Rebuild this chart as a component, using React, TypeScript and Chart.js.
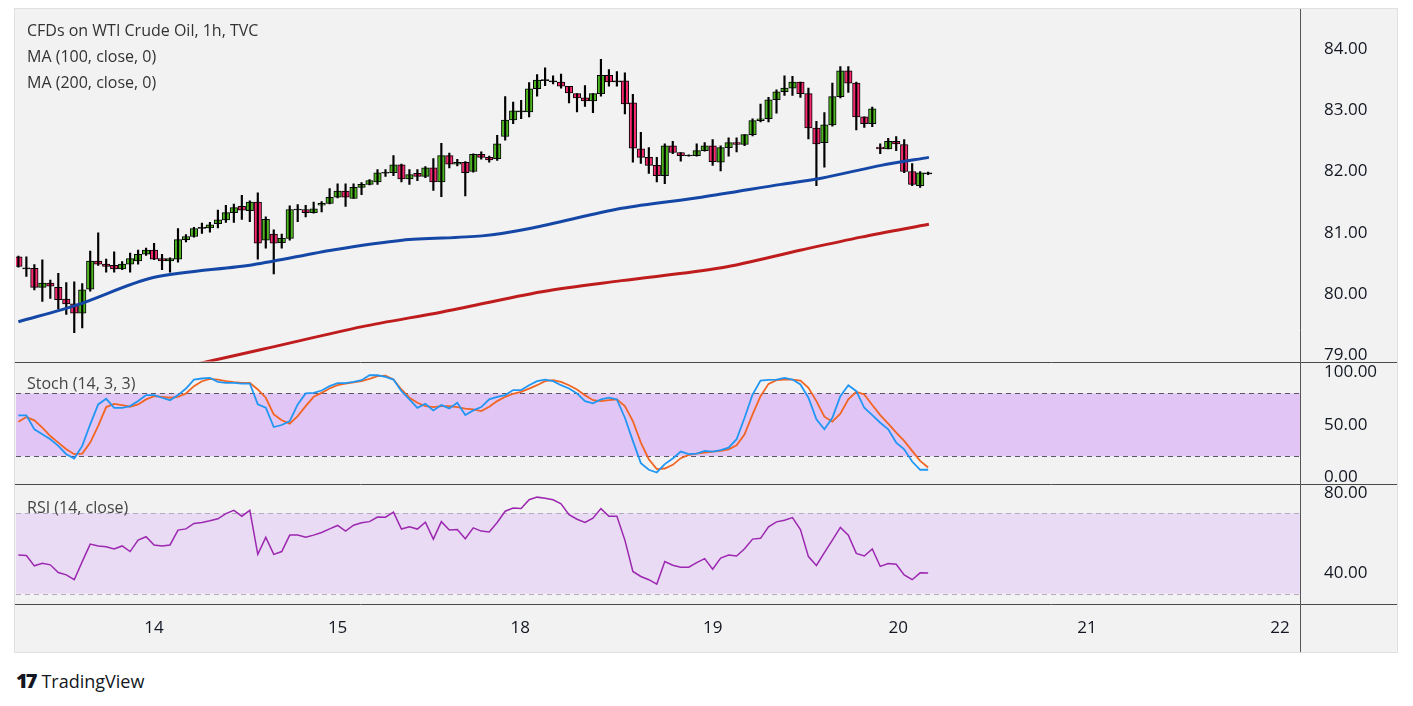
import React, { useEffect, useRef } from "react";
import { Chart, registerables } from "chart.js";
Chart.register(...registerables);

// Candles: [open, close, high, low]
const candles: number[][] = [
  [80.61,80.45,80.62,80.44],[80.42,80.42,80.61,80.29],[80.42,80.11,80.48,80.07],[80.11,80.18,80.56,79.88],
  [80.18,80.13,80.23,79.93],[80.11,79.91,80.34,79.76],[79.92,79.84,80.19,79.67],[79.84,79.69,80.20,79.37],
  [79.69,80.07,80.17,79.45],[80.08,80.54,80.70,80.05],[80.54,80.49,81.00,80.47],[80.49,80.45,80.57,80.36],
  [80.47,80.41,80.69,80.36],[80.41,80.49,80.53,80.40],[80.49,80.58,80.67,80.36],[80.54,80.65,80.72,80.49],
  [80.65,80.72,80.75,80.63],[80.72,80.57,80.83,80.56],[80.58,80.54,80.65,80.40],[80.54,80.58,80.59,80.36],
  [80.57,80.89,81.07,80.52],[80.89,80.94,80.97,80.85],[80.94,81.07,81.09,80.93],[81.08,81.08,81.16,80.99],
  [81.08,81.13,81.17,81.01],[81.15,81.21,81.37,81.08],[81.21,81.33,81.45,81.17],[81.33,81.41,81.47,81.17],
  [81.43,81.37,81.61,81.22],[81.36,81.50,81.52,81.18],[81.50,80.83,81.65,80.57],[80.88,81.22,81.26,80.75],
  [80.98,80.83,81.05,80.33],[80.84,80.91,80.98,80.75],[80.91,81.38,81.44,80.88],[81.38,81.38,81.46,81.18],
  [81.38,81.33,81.45,81.26],[81.33,81.39,81.50,81.32],[81.45,81.48,81.51,81.34],[81.48,81.58,81.72,81.47],
  [81.58,81.68,81.80,81.57],[81.68,81.58,81.80,81.43],[81.56,81.74,81.80,81.56],[81.74,81.79,81.82,81.62],
  [81.79,81.85,81.87,81.78],[81.83,81.98,82.03,81.79],[81.98,81.98,82.03,81.92],[81.98,82.11,82.26,81.93],
  [82.11,81.88,82.12,81.83],[81.88,81.95,82.03,81.79],[81.97,81.92,82.03,81.85],[81.92,82.06,82.08,81.90],
  [82.06,81.83,82.21,81.69],[81.83,82.26,82.46,81.59],[82.26,82.12,82.30,82.06],[82.12,82.15,82.20,82.09],
  [82.15,81.98,82.16,81.60],[82.00,82.28,82.29,81.99],[82.28,82.23,82.32,82.20],[82.23,82.19,82.25,82.15],
  [82.21,82.45,82.59,82.18],[82.57,82.84,83.22,82.51],[82.84,82.99,83.13,82.78],[82.98,82.98,83.16,82.86],
  [82.97,83.35,83.45,82.89],[83.35,83.49,83.58,83.23],[83.49,83.49,83.69,83.40],[83.47,83.47,83.56,83.43],
  [83.46,83.39,83.59,83.36],[83.39,83.28,83.39,83.12],[83.27,83.20,83.27,82.97],[83.20,83.15,83.40,83.06],
  [83.15,83.27,83.27,82.96],[83.27,83.57,83.83,83.23],[83.57,83.46,83.66,83.39],[83.47,83.47,83.63,83.39],
  [83.48,83.10,83.61,82.94],[83.12,82.38,83.26,82.15],[82.37,82.23,82.64,82.13],[82.23,82.10,82.39,81.97],
  [82.10,81.93,82.23,81.83],[81.93,82.42,82.45,81.80],[82.42,82.31,82.49,82.29],[82.31,82.26,82.31,82.17],
  [82.26,82.26,82.27,82.25],[82.26,82.34,82.45,82.25],[82.34,82.42,82.47,82.33],[82.42,82.16,82.52,82.10],
  [82.15,82.39,82.42,82.01],[82.39,82.47,82.55,82.25],[82.47,82.44,82.55,82.32],[82.44,82.60,82.60,82.42],
  [82.60,82.83,82.86,82.58],[82.83,82.86,83.10,82.81],[82.86,83.17,83.21,82.81],[83.17,83.30,83.33,82.95],
  [83.30,83.36,83.56,83.24],[83.36,83.46,83.55,83.24],[83.46,83.27,83.46,83.21],[83.27,82.71,83.36,82.53],
  [82.71,82.45,82.82,81.77],[82.47,82.76,82.96,82.07],[82.76,83.22,83.44,82.74],[83.22,83.64,83.71,83.20],
  [83.64,83.44,83.71,83.29],[83.44,82.89,83.46,82.68],[82.89,82.78,82.89,82.72],[82.78,83.02,83.05,82.73],
  [82.40,82.37,82.45,82.29],[82.37,82.49,82.54,82.37],[82.49,82.45,82.57,82.34],[82.44,82.00,82.52,81.98],
  [82.00,81.79,82.13,81.77],[81.77,81.98,82.00,81.74],[81.97,81.97,81.99,81.95],
];

const ma100X = [0, 7.5, 16.9, 29.4, 39.4, 48.1, 58.1, 64.4, 75.6, 85.6, 95.6, 100.6, 108.1, 114.1];
const ma100Y = [79.55, 79.83, 80.27, 80.48, 80.72, 80.88, 80.95, 81.08, 81.40, 81.58, 81.79, 81.89, 82.10, 82.23];
const ma200X = [22, 30.6, 43.1, 53.1, 65.6, 75.6, 88.1, 98.1, 105.6, 114.1];
const ma200Y = [78.85, 79.10, 79.47, 79.71, 80.04, 80.22, 80.43, 80.72, 80.93, 81.14];

const stochK = [59,59,45.7,40.9,36.2,29.8,21.9,17.8,29.8,50.5,69.5,74.9,66.3,66.3,67.9,72.7,78.4,78.4,75.9,73.6,78.4,84.7,93.3,94.3,94.9,91.1,90.1,90.1,89.5,89.5,69.5,66.3,47.9,49.8,53.6,69.5,80,80.6,82.8,87,89.8,89.8,91.1,92.7,97.4,97.4,95.9,93.3,82.2,74.3,66.3,70.1,63.8,68.9,65.7,71.1,59.3,63.8,67,
  74.3,76.8,78.4,83.2,83.2,87.9,91.7,93.3,91.7,87.9,84.7,80,72.7,70.5,74.3,75.9,74.3,56.8,34.6,13.3,7,4.4,12.4,17.8,24.4,21.9,22.5,25.1,24.4,25.7,28.2,36.2,56.8,79,92.4,93,93.3,94.9,93.3,88.6,75.9,55.2,45.7,56.8,77.4,87.9,82.2,66.3,59.3,52,45.7,33,26.6,14.9,7,7];
const stochD = [53,57.4,54.3,47.3,39.3,33,26.6,21.9,22.5,33,48.9,67,70.1,68.9,67.3,69.5,74.3,77.4,76.8,75.9,76.8,80,87,91.7,94,93.3,91.7,90.8,90.1,90.1,83.8,75.9,60,54.3,51.1,58.4,67.9,76.8,80.6,84.7,87.9,89.5,90.5,91.7,94,96.5,97.1,93.3,83.8,75.9,71.1,67.9,67,67.9,67.9,67,65.4,64.7,63.2,
  67.3,72.7,76.8,79.7,81.6,84.7,87.9,91.7,92.7,91.1,87.9,83.8,78.4,73.6,72.7,73.6,74.3,67.9,53.6,33,17.1,7.6,8.2,11.7,18.1,21.3,22.5,23.5,24.4,25.1,26.6,30.5,40.9,60,77.4,89.2,92.7,93.3,93.3,92.4,85.4,72.7,57.8,53,60.6,74.3,81.6,79,68.9,59.3,51.1,42.5,34.6,25.1,15.5,9.2];
const rsi = [49.2,48.9,43.8,45.1,44.3,40.5,39.3,36.9,45.9,54.6,53.7,53.3,52.2,53.7,50.9,56.6,58.3,54.2,53.7,54.2,61.6,62.2,64.9,65.4,66.2,67.2,69.8,71.4,68.5,71.4,49.5,58,49.5,50.9,59.1,59.1,58,59.1,60.4,62.2,63.9,61.1,64,65.2,65.8,68.1,68,70.5,62.1,63.2,62.1,65.5,57.1,65.8,61.6,61.9,57.3,62.7,61.1,60.7,65.4,71,72.6,72.4,76.7,78,77.5,76.7,74.7,69.3,67,65.4,67.5,72.3,68.5,68.5,56.6,41,38.5,36.9,34.7,45.9,44.1,43.1,43.1,45.4,47.4,42.1,47.7,49.2,48.7,52.3,57.1,57.5,63.2,65.7,66.5,67.8,61.9,48.4,44,50.4,56.6,62.9,59.1,50,48.7,52.2,43.5,44.9,44.6,39.3,36.9,40.3,40.2];

const dayTickPos = [17, 40, 62.9, 87, 110.25, 133.9, 158.1];
const dayTickLabels = ["14", "15", "18", "19", "20", "21", "22"];
const priceTicks = [79, 80, 81, 82, 83, 84];
const stochTicks = [0, 50, 100];
const rsiTicks = [40, 80];

const GREEN = "#4cb51f", RED = "#f7296f";

export default function App() {
  const ref = useRef<HTMLCanvasElement>(null);
  useEffect(() => {
    const up = (c: number[]) => c[1] >= c[0];
    const pts = (arr: number[]) => arr.map((v, i) => ({ x: i, y: v }));
    const overlay = {
      id: "overlay",
      beforeDatasetsDraw(ch: any) {
        const { ctx, chartArea } = ch;
        const l = chartArea.left, r = chartArea.right;
        const band = (sc: any, a: number, b: number, fill: string, dash: string) => {
          const ya = sc.getPixelForValue(a), yb = sc.getPixelForValue(b);
          ctx.save();
          ctx.fillStyle = fill;
          ctx.fillRect(l, yb, r - l, ya - yb);
          ctx.strokeStyle = dash; ctx.lineWidth = 1; ctx.setLineDash([5, 4]);
          ctx.beginPath(); ctx.moveTo(l, Math.round(ya) + 0.5); ctx.lineTo(r, Math.round(ya) + 0.5);
          ctx.moveTo(l, Math.round(yb) + 0.5); ctx.lineTo(r, Math.round(yb) + 0.5); ctx.stroke();
          ctx.restore();
        };
        band(ch.scales.yS, 20, 80, "#e1c5f4", "#5d5566");
        band(ch.scales.yR, 30, 70, "#eadbf4", "#b5a9bd");
      },
      afterDraw(ch: any) {
        const { ctx, chartArea } = ch;
        const W = ch.width;
        ctx.save();
        ctx.strokeStyle = "#4a4a4a"; ctx.lineWidth = 1;
        [ch.scales.yP.bottom, ch.scales.yS.bottom, ch.scales.yR.bottom].forEach((y: number) => {
          ctx.beginPath(); ctx.moveTo(0, Math.round(y) + 0.5); ctx.lineTo(W, Math.round(y) + 0.5); ctx.stroke();
        });
        ctx.strokeStyle = "#555";
        ctx.beginPath(); ctx.moveTo(Math.round(chartArea.right) + 0.5, 0); ctx.lineTo(Math.round(chartArea.right) + 0.5, ch.height); ctx.stroke();
        ctx.font = '16px "Open Sans"'; ctx.fillStyle = "#333"; ctx.textBaseline = "middle";
        const t = ch.scales.yP.top;
        ctx.fillText("CFDs on WTI Crude Oil, 1h, TVC", 12, t + 22);
        ctx.fillText("MA (100, close, 0)", 12, t + 48);
        ctx.fillText("MA (200, close, 0)", 12, t + 74);
        ctx.fillStyle = "#444";
        ctx.fillText("Stoch (14, 3, 3)", 12, ch.scales.yS.top + 23);
        ctx.fillText("RSI (14, close)", 12, ch.scales.yR.top + 24);
        ctx.restore();
      },
    };
    const axisCommon = (min: number, max: number, vals: number[], weight: number) => ({
      type: "linear", position: "right", stack: "panels", stackWeight: weight, min, max,
      grid: { display: false }, border: { display: false },
      afterBuildTicks: (s: any) => { s.ticks = vals.map((v) => ({ value: v })); },
      afterFit: (s: any) => { s.width = 97; s.paddingTop = 0; s.paddingBottom = 0; },
      ticks: { color: "#131722", font: { size: 17, family: "Open Sans" }, padding: 16,
        callback: (v: any) => Number(v).toFixed(2) },
    });
    const chart = new Chart(ref.current!, {
      type: "bar",
      data: {
        datasets: [
          { type: "line", data: ma100X.map((x, i) => ({ x, y: ma100Y[i] })), borderColor: "#1447a6", borderWidth: 3, pointRadius: 0, yAxisID: "yP", tension: 0.3 } as any,
          { type: "line", data: ma200X.map((x, i) => ({ x, y: ma200Y[i] })), borderColor: "#bf1d1d", borderWidth: 3, pointRadius: 0, yAxisID: "yP", tension: 0.3 } as any,
          { data: candles.map((c, i) => ({ x: i, y: [c[3], c[2]] })), backgroundColor: "#000", barThickness: 1.5, grouped: false, yAxisID: "yP" } as any,
          { data: candles.map((c, i) => ({ x: i, y: c[0] === c[1] ? [c[0] - 0.008, c[0] + 0.008] : [c[0], c[1]] })),
            backgroundColor: candles.map((c) => (c[0] === c[1] ? "#000" : up(c) ? GREEN : RED)),
            borderColor: "#000", borderWidth: 1, borderSkipped: false, barThickness: 7.5, grouped: false, yAxisID: "yP" } as any,
          { type: "line", data: pts(stochK), borderColor: "#2196f3", borderWidth: 1.8, pointRadius: 0, yAxisID: "yS" } as any,
          { type: "line", data: pts(stochD), borderColor: "#f26522", borderWidth: 1.8, pointRadius: 0, yAxisID: "yS" } as any,
          { type: "line", data: pts(rsi), borderColor: "#9c27b0", borderWidth: 1.5, pointRadius: 0, yAxisID: "yR" } as any,
        ],
      },
      options: {
        animation: false, responsive: true, maintainAspectRatio: false,
        layout: { padding: { left: 1, top: 0, right: 0, bottom: 8 } },
        plugins: { legend: { display: false }, tooltip: { enabled: false } },
        scales: {
          x: { type: "linear", min: -0.3, max: 160.6, offset: false, grid: { display: false }, border: { display: false },
            afterBuildTicks: (s: any) => { s.ticks = dayTickPos.map((v) => ({ value: v })); },
            ticks: { color: "#131722", font: { size: 17, family: "Open Sans" }, maxRotation: 0, autoSkip: false, padding: 6,
              callback: (v: any) => { const k = dayTickPos.indexOf(Number(v)); return k >= 0 ? dayTickLabels[k] : ""; } } },
          yP: axisCommon(78.9, 84.65, priceTicks, 354),
          yS: axisCommon(-6.7, 110.5, stochTicks, 123),
          yR: axisCommon(25, 84.5, rsiTicks, 120),
        } as any,
      },
      plugins: [overlay],
    });
    return () => chart.destroy();
  }, []);
  return (
    <div style={{ fontFamily: '"Open Sans", sans-serif' }}>
      <div style={{ marginLeft: 6, width: 1384, height: 645, background: "#f2f2f2", border: "1px solid #e0e0e0", boxSizing: "border-box" }}>
        <canvas ref={ref} />
      </div>
      <div style={{ marginLeft: 8, marginTop: 14, fontSize: 18, color: "#131722", display: "flex", alignItems: "center", gap: 6 }}>
        <span style={{ fontWeight: 900, fontSize: 20, letterSpacing: -2 }}>17</span>
        <span>TradingView</span>
      </div>
    </div>
  );
}
